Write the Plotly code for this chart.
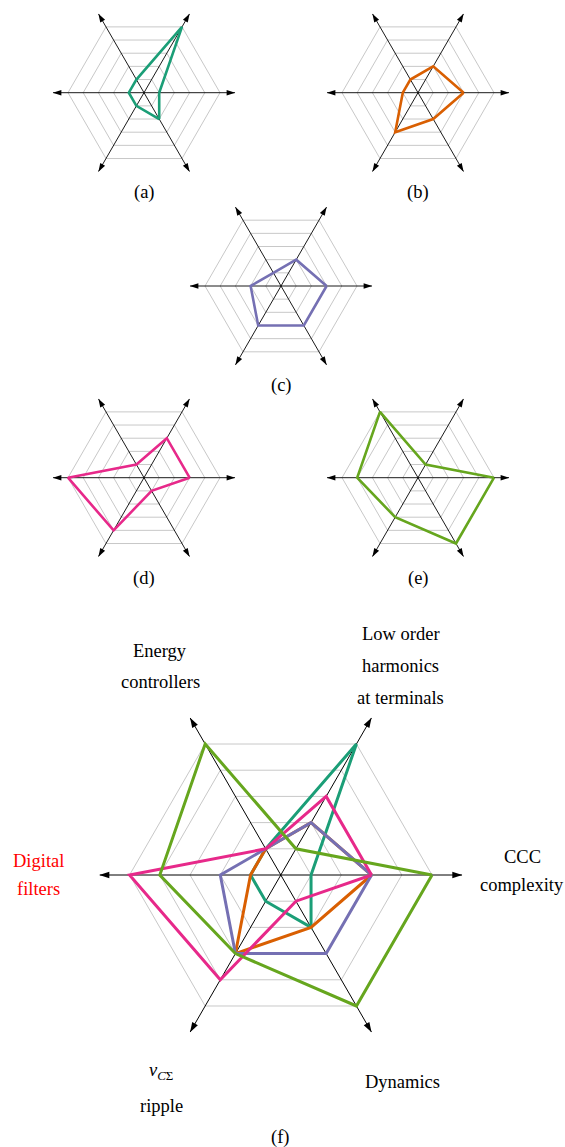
import plotly.graph_objects as go

W, H = 565, 1147

# Radar axes, counter-clockwise from the east direction
AXES = [
    "CCC complexity",
    "Low order harmonics at terminals",
    "Energy controllers",
    "Digital filters",
    "vCΣ ripple",
    "Dynamics",
]

# Scores of each strategy on the six axes (same order as AXES)
scores_a = [1, 5, 1, 1, 1, 2]
scores_b = [3, 2, 1, 1, 3, 2]
scores_c = [3, 2, 1, 2, 3, 3]
scores_d = [3, 3, 1, 5, 4, 1]
scores_e = [5, 1, 5, 4, 3, 5]

GRID_LEVELS = [1, 2, 3, 4, 5]
AXIS_LIMIT = 6

panel_tags = ["(a)", "(b)", "(c)", "(d)", "(e)", "(f)"]

COLORS = ["#1b9e77", "#d95f02", "#7570b3", "#e7298a", "#66a61e"]
SERIES = [scores_a, scores_b, scores_c, scores_d, scores_e]

FONT = "Liberation Serif"

# panel layout in pixels: centre x, centre y, outer radius, line width, arrow size
PANELS = [
    dict(cx=144.0, cy=92.7, R=91.2, lw=2.6, aw=0.9, asz=9, series=[0], tag=(144, 193)),
    dict(cx=418.0, cy=92.7, R=91.2, lw=2.6, aw=0.9, asz=9, series=[1], tag=(418, 193)),
    dict(cx=281.0, cy=286.0, R=91.2, lw=2.6, aw=0.9, asz=9, series=[2], tag=(281, 386)),
    dict(cx=144.0, cy=477.7, R=91.2, lw=2.6, aw=0.9, asz=9, series=[3], tag=(144, 578)),
    dict(cx=418.0, cy=477.7, R=91.2, lw=2.6, aw=0.9, asz=9, series=[4], tag=(418, 578)),
    dict(cx=280.8, cy=875.0, R=181.5, lw=3.0, aw=1.0, asz=10.5, series=[0, 1, 2, 3, 4], tag=(280, 1137)),
]


def px_x(x):
    return x / W


def px_y(y):
    return 1 - y / H


fig = go.Figure()
layout_polars = {}

for i, p in enumerate(PANELS):
    sub = "polar" if i == 0 else f"polar{i + 1}"

    # axis spokes through the centre
    spoke_r, spoke_t = [], []
    for name in AXES:
        spoke_r += [0, AXIS_LIMIT, None]
        spoke_t += [name, name, None]
    fig.add_trace(go.Scatterpolar(
        r=spoke_r, theta=spoke_t, mode="lines", subplot=sub,
        line=dict(color="black", width=p["aw"]), hoverinfo="skip",
        connectgaps=False, showlegend=False, cliponaxis=False,
    ))

    # arrowheads at the ends of the spokes
    fig.add_trace(go.Scatterpolar(
        r=[AXIS_LIMIT] * len(AXES), theta=AXES, mode="markers", subplot=sub,
        marker=dict(symbol="arrow", size=p["asz"], color="black",
                    angle=[90 - 60 * k for k in range(len(AXES))],
                    line=dict(width=0)),
        hoverinfo="skip", showlegend=False, cliponaxis=False,
    ))

    # strategy polygons
    for s in p["series"]:
        vals = SERIES[s]
        fig.add_trace(go.Scatterpolar(
            r=vals + vals[:1], theta=AXES + AXES[:1], mode="lines", subplot=sub,
            line=dict(color=COLORS[s], width=p["lw"]),
            showlegend=False, cliponaxis=False,
        ))

    layout_polars[sub] = dict(
        domain=dict(
            x=[px_x(p["cx"] - p["R"]), px_x(p["cx"] + p["R"])],
            y=[px_y(p["cy"] + p["R"]), px_y(p["cy"] - p["R"])],
        ),
        gridshape="linear",
        bgcolor="rgba(0,0,0,0)",
        radialaxis=dict(
            range=[0, AXIS_LIMIT], tickvals=GRID_LEVELS, showticklabels=False,
            ticks="", showline=False, gridcolor="#c8c8c8", gridwidth=1,
            layer="below traces",
        ),
        angularaxis=dict(
            type="category", categoryorder="array", categoryarray=AXES,
            rotation=0, direction="counterclockwise", showline=False,
            showticklabels=False, ticks="", showgrid=False,
            layer="below traces",
        ),
    )

annotations = []
for p, tag in zip(PANELS, panel_tags):
    annotations.append(dict(
        text=tag, x=px_x(p["tag"][0]), y=px_y(p["tag"][1]),
        xref="paper", yref="paper", xanchor="center", yanchor="middle",
        showarrow=False, font=dict(family=FONT, size=18.5, color="black"),
    ))

# axis names around the combined chart, one annotation per text line
axis_text = [
    (["Energy", "controllers"], 160, [651, 682], "black"),
    (["Low order", "harmonics", "at terminals"], 401, [634, 666, 698], "black"),
    (["Digital", "filters"], 38, [861, 889], "red"),
    (["CCC", "complexity"], 522, [857, 885], "black"),
    (["<i>v</i><sub><i>C</i>Σ</sub>", "ripple"], 161, [1071, 1106], "black"),
    (["Dynamics"], 402, [1082], "black"),
]
for lines, x, ys, col in axis_text:
    for line, y in zip(lines, ys):
        annotations.append(dict(
            text=line, x=px_x(x), y=px_y(y), xref="paper", yref="paper",
            xanchor="center", yanchor="middle", showarrow=False,
            font=dict(family=FONT, size=18.5, color=col),
        ))

fig.update_layout(
    width=W, height=H, autosize=False,
    margin=dict(l=0, r=0, t=0, b=0),
    paper_bgcolor="white", plot_bgcolor="white",
    showlegend=False,
    font=dict(family=FONT),
    annotations=annotations,
    **layout_polars,
)

fig.write_html("out.html")
